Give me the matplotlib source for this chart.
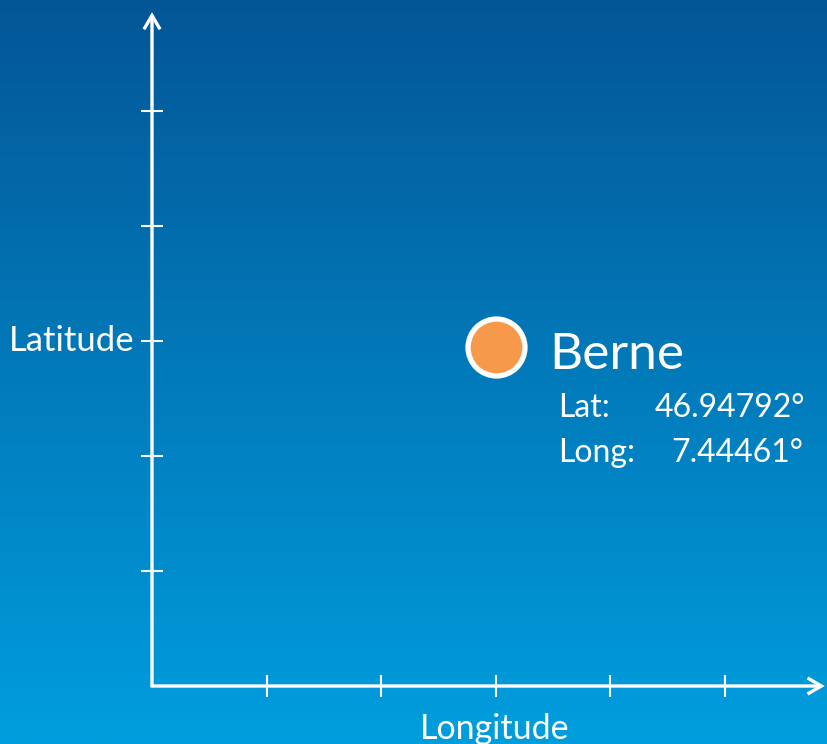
import numpy as np
import matplotlib.pyplot as plt

# city shown on the chart
city = ["Berne"]
lon_pos = [3.0]      # position on the schematic axes
lat_pos = [2.95]
lat_txt = ["46.94792°"]
lon_txt = ["7.44461°"]

xticks = [1, 2, 3, 4, 5]
yticks = [1, 2, 3, 4, 5]

plt.rcParams['font.family'] = ['Lato', 'DejaVu Sans']

fig = plt.figure(figsize=(8.27, 7.44), dpi=100)
ax = fig.add_axes([0, 0, 1, 1])
xl = (-152 / 114.6, (827 - 152) / 114.6)
yl = (-58 / 115.0, (744 - 58) / 115.0)

# vertical gradient background, dark at top
grad = np.linspace(0, 1, 256).reshape(-1, 1)
top = np.array([4, 86, 150]) / 255.0
bot = np.array([0, 158, 222]) / 255.0
img = top + (bot - top) * grad[:, :, None]
ax.imshow(img, extent=[xl[0], xl[1], yl[0], yl[1]], aspect='auto',
          zorder=0, origin='upper')
ax.set_xlim(xl)
ax.set_ylim(yl)
ax.axis('off')

xmax, ymax = 5.87, 5.86
arrow = dict(arrowstyle='->,head_length=1.0,head_width=0.58',
             color='white', lw=2.4, shrinkA=0, shrinkB=0,
             joinstyle='miter', capstyle='butt')
ax.annotate('', xy=(0, ymax), xytext=(0, -0.01), arrowprops=arrow, zorder=3)
ax.annotate('', xy=(xmax, 0), xytext=(-0.01, 0), arrowprops=arrow, zorder=3)

# cross ticks
ax.plot(xticks, np.zeros(len(xticks)), '|', ms=15.5, mew=1.5, color='white',
        zorder=3)
ax.plot(np.zeros(len(yticks)), yticks, '_', ms=15.5, mew=1.5, color='white',
        zorder=3)

ax.text(-0.15, 3.0, "Latitude", color='white', fontsize=25,
        ha='right', va='center')
ax.text(2.99, -0.37, "Longitude", color='white', fontsize=24.5,
        ha='center', va='center')

ax.plot(lon_pos, lat_pos, 'o', ms=41, mfc='#f7994a', mec='white', mew=3.8,
        zorder=5)

for x, y, c, la, lo in zip(lon_pos, lat_pos, city, lat_txt, lon_txt):
    ax.text(x + 0.47, y - 0.07, c, color='white', fontsize=37,
            ha='left', va='center')
    ax.text(x + 0.54, y - 0.53, "Lat:", color='white', fontsize=23,
            ha='left', va='center')
    ax.text(x + 2.7, y - 0.53, la, color='white', fontsize=23,
            ha='right', va='center')
    ax.text(x + 0.54, y - 0.92, "Long:", color='white', fontsize=23,
            ha='left', va='center')
    ax.text(x + 2.68, y - 0.92, lo, color='white', fontsize=23,
            ha='right', va='center')

fig.savefig('out.png', dpi=100)
